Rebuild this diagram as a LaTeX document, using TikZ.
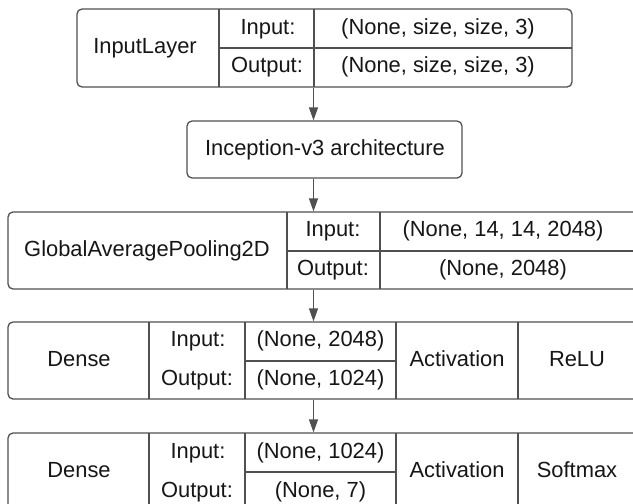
\documentclass[tikz,border=0pt]{standalone}
\usepackage{fontspec}
\setmainfont{Liberation Sans}
\usetikzlibrary{arrows.meta}

\definecolor{linea}{HTML}{505050}
\definecolor{scritta}{HTML}{161616}

\begin{document}
\begin{tikzpicture}[x=1pt,y=-1pt]
\tikzstyle{blocco} = [draw=linea, line width=1.3pt, rounded corners=5pt, inner sep=0]
\tikzstyle{divisorio} = [draw=linea, line width=1.3pt]
\tikzstyle{testo} = [font=\fontsize{21.9}{24}\selectfont, text=scritta, inner sep=0, text height=0.72em, text depth=0pt, yshift=-2pt]
\tikzstyle{freccia} = [draw=linea, line width=1.3pt, -{Triangle[length=13pt,width=9pt]}]

\clip (0,0) rectangle (633,504);

% Blocchi esterni
\node[blocco, minimum width=495pt, minimum height=78pt] (inlayer) at (324.5,48) {};
\node[blocco, minimum width=275pt, minimum height=57pt] (incep) at (324.5,149.5) {};
\node[blocco, minimum width=632pt, minimum height=77pt] (pool) at (324,250.5) {};
\node[blocco, minimum width=632pt, minimum height=77pt] (dense1) at (324,360.5) {};
\node[blocco, minimum width=632pt, minimum height=78pt] (dense2) at (324,472) {};

% Divisori
\foreach \xx in {219,314} {
  \draw[divisorio] (\xx,9) -- (\xx,87);
}
\draw[divisorio] (219,48) -- (572,48);

\foreach \xx in {287,380} {
  \draw[divisorio] (\xx,212) -- (\xx,289);
}
\draw[divisorio] (287,251) -- (640,251);

\foreach \xx in {149,245,396,518} {
  \draw[divisorio] (\xx,322) -- (\xx,399);
  \draw[divisorio] (\xx,433) -- (\xx,511);
}
\draw[divisorio] (245,361) -- (396,361);
\draw[divisorio] (245,472) -- (396,472);

% Testi
\node[testo] (t-in-nome) at (145,48) {InputLayer};
\node[testo] (t-in-i) at (268,29) {Input:};
\node[testo] (t-in-o) at (267,67) {Output:};
\node[testo] (t-in-iv) at (438,29) {(None, size, size, 3)};
\node[testo] (t-in-ov) at (438,67) {(None, size, size, 3)};

\node[testo] (t-inc) at (325,150) {Inception-v3 architecture};

\node[testo] (t-gp-nome) at (147,250.5) {GlobalAveragePooling2D};
\node[testo] (t-gp-i) at (333,231) {Input:};
\node[testo] (t-gp-o) at (333,270) {Output:};
\node[testo] (t-gp-iv) at (503,231) {(None, 14, 14, 2048)};
\node[testo] (t-gp-ov) at (503,270) {(None, 2048)};

% due strati densi: riga/input/output/funzione
\foreach \yy/\iv/\ov/\fun [count=\n] in {360.5/{(None, 2048)}/{(None, 1024)}/ReLU, 472/{(None, 1024)}/{(None, 7)}/Softmax} {
  \node[testo] (t-d\n-nome) at (79,\yy) {Dense};
  \node[testo] (t-d\n-i) at (198,\yy-19.5) {Input:};
  \node[testo] (t-d\n-o) at (197,\yy+19.5) {Output:};
  \node[testo] (t-d\n-iv) at (320.5,\yy-19.5) {\iv};
  \node[testo] (t-d\n-ov) at (320.5,\yy+19.5) {\ov};
  \node[testo] (t-d\n-act) at (457,\yy) {Activation};
  \node[testo] (t-d\n-fun) at (577,\yy) {\fun};
}

% Frecce
\coordinate (asse) at (313.5,0);
\draw[freccia] (inlayer.south -| asse) -- (incep.north -| asse);
\draw[freccia] (incep.south -| asse) -- (pool.north -| asse);
\draw[freccia] (pool.south -| asse) -- (dense1.north -| asse);
\draw[freccia] (dense1.south -| asse) -- (dense2.north -| asse);

\end{tikzpicture}
\end{document}
